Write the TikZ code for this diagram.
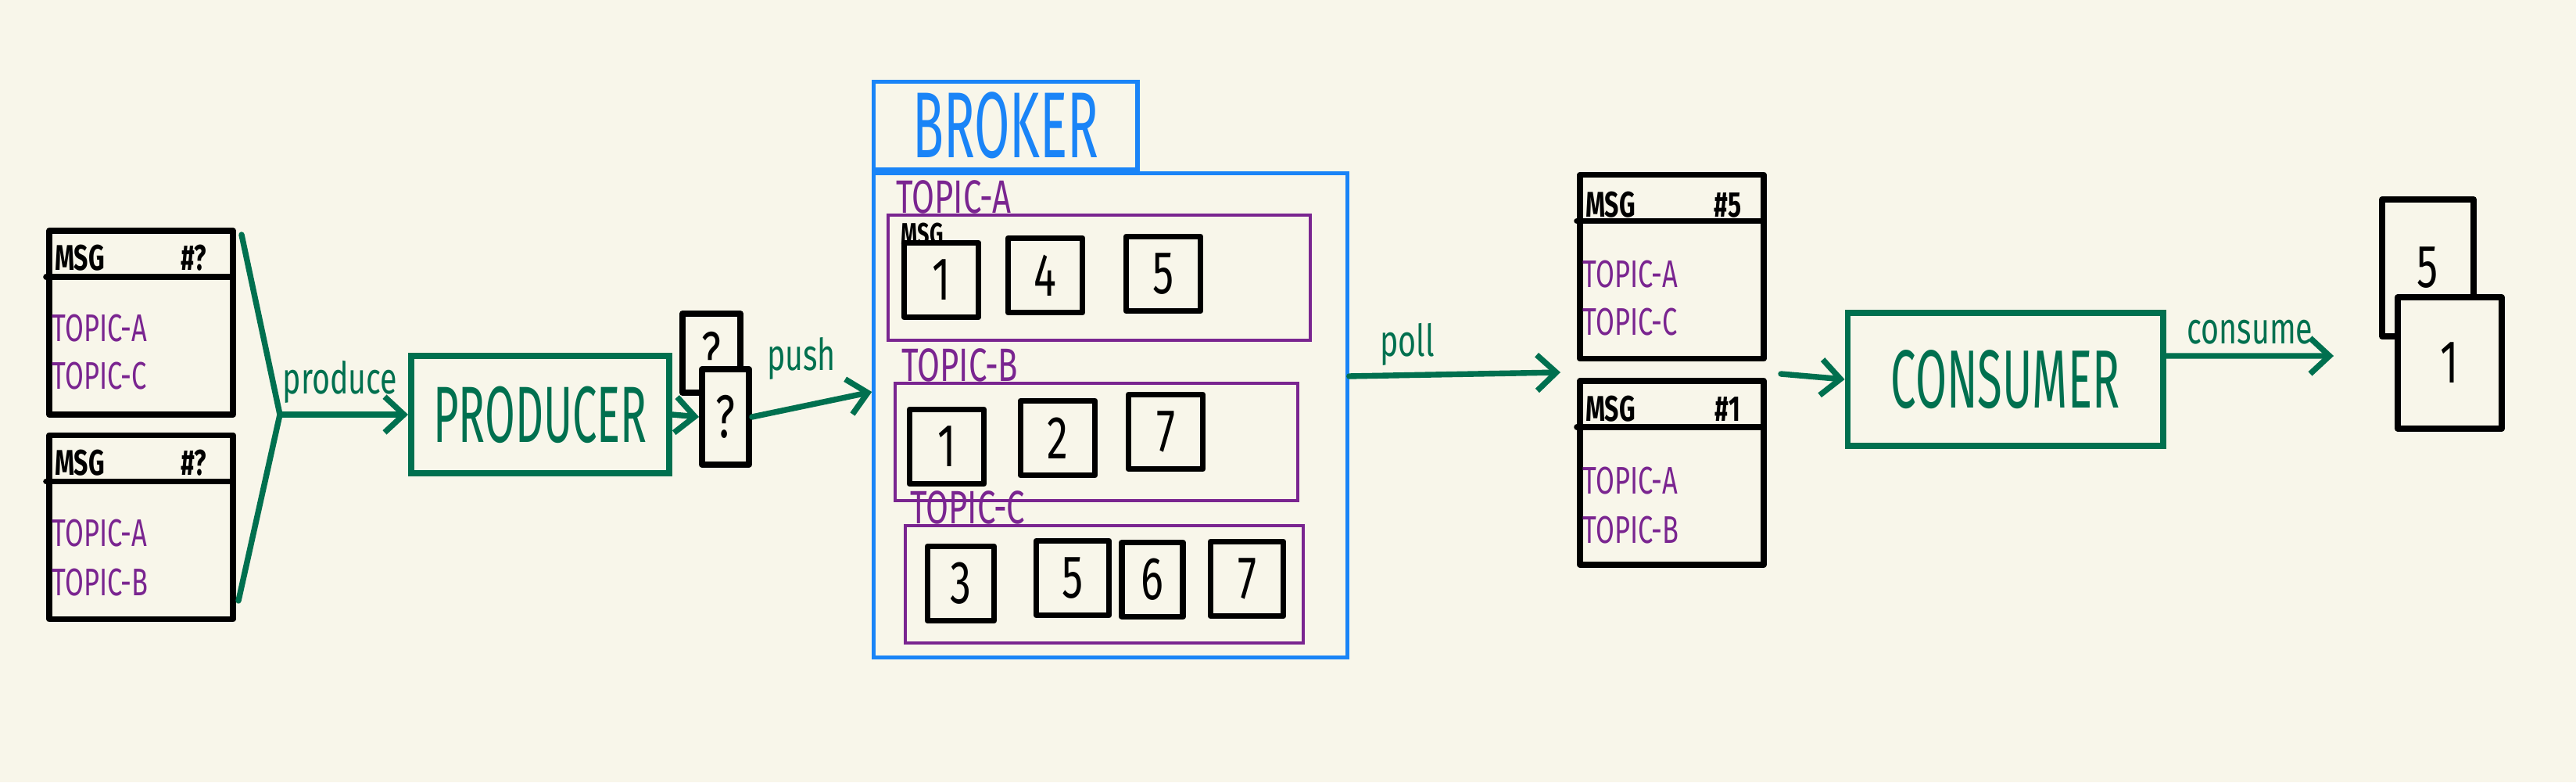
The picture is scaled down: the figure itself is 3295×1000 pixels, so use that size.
\documentclass[tikz,border=0pt]{standalone}
\usepackage{fontspec}
\usepackage{xcolor}
\usetikzlibrary{arrows.meta}
\newfontfamily\handfont[FakeStretch=0.7]{Fira Sans}
\newfontfamily\bighandfont[FakeStretch=0.55]{Fira Sans}
\definecolor{paper}{HTML}{F8F6EA}
\definecolor{flowgreen}{HTML}{00704F}
\definecolor{topicpurple}{HTML}{7A2590}
\definecolor{brokerblue}{HTML}{1A84F7}

\begin{document}
\begin{tikzpicture}[x=0.01cm, y=-0.01cm,
  >={Straight Barb[length=7pt,width=13pt]},
  ink/.style={line width=2.2pt, line cap=round, line join=round},
  msgbox/.style={ink, draw=black, minimum width=2.35cm, minimum height=2.35cm, inner sep=0pt},
  msghead/.style={font=\handfont\bfseries\fontsize{13}{13}\selectfont, inner sep=0pt},
  msgtopic/.style={text=topicpurple, font=\handfont\fontsize{14}{14}\selectfont, inner sep=0pt, anchor=west},
  card/.style={ink, draw=black, fill=paper, minimum width=0.95cm, minimum height=0.95cm, inner sep=0pt, font=\handfont\fontsize{22}{22}\selectfont},
  flow/.style={draw=flowgreen, line width=2.1pt, line cap=round},
  flowlbl/.style={text=flowgreen, font=\handfont\fontsize{16}{16}\selectfont, inner sep=0pt},
  actor/.style={draw=flowgreen, line width=2.2pt, text=flowgreen, inner sep=0pt},
  brokerbox/.style={draw=brokerblue, line width=1.5pt, text=brokerblue, inner sep=0pt},
  topicbox/.style={draw=topicpurple, line width=1.3pt, inner sep=0pt},
  topiclbl/.style={text=topicpurple, font=\handfont\fontsize{17}{17}\selectfont, inner sep=0pt}
]

\fill[paper] (0,0) rectangle (3295,1000);

% messages waiting to be produced
\node[msgbox] (m1) at (180.5,412.5) {};
\draw[ink] (m1.north west) ++(0,63) -- ++(235,0);
\node[msghead] (m1msg) at (102,330) {MSG};
\node[msghead] (m1id) at (248,330) {\#?};
\node[msgtopic] (m1ta) at (66,420) {TOPIC-A};
\node[msgtopic] (m1tc) at (66,481) {TOPIC-C};

\node[msgbox] (m2) at (180.5,674) {};
\draw[ink] (m2.north west) ++(0,63) -- ++(235,0);
\node[msghead] (m2msg) at (102,592) {MSG};
\node[msghead] (m2id) at (248,592) {\#?};
\node[msgtopic] (m2ta) at (66,682) {TOPIC-A};
\node[msgtopic] (m2tb) at (66,745) {TOPIC-B};

% producer
\coordinate (fanTop) at (309,300);
\coordinate (fanBot) at (305,768);
\coordinate (fanJoin) at (358,530);
\node[actor, minimum width=3.30cm, minimum height=1.50cm, font=\bighandfont\fontsize{29}{29}\selectfont] (prod) at (691,530) {PRODUCER};

\node[card, minimum width=0.74cm, minimum height=1.01cm] (qback) at (910,451.5) {?};
\node[card, minimum width=0.60cm, minimum height=1.22cm] (qfront) at (928,533) {?};

\draw[flow] (fanTop) -- (fanJoin) -- (fanBot);
\draw[flow, ->] (fanJoin) -- (prod.west);
\node[flowlbl] (lblProduce) at (435,488) {produce};
\draw[flow, ->] (prod.east) -- (qfront.west);

% broker
\node[brokerbox, minimum width=6.05cm, minimum height=6.18cm] (broker) at (1420.5,531) {};
\node[brokerbox, anchor=south west, minimum width=3.37cm, minimum height=1.12cm, font=\bighandfont\fontsize{34}{34}\selectfont] (brokertab) at (broker.north west) {BROKER};

\draw[flow, ->] (qfront.east) -- ([yshift=0.3cm]broker.west);
\node[flowlbl] (lblPush) at (1025,458) {push};

\node[topicbox, minimum width=5.40cm, minimum height=1.60cm] (topicA) at (1406,355) {};
\node[topiclbl, anchor=base west, xshift=0.12cm] (lblA) at (topicA.north west) {TOPIC-A};
\node[card] (a1) at (1204,358) {1};
\node[card] (a2) at (1337,352) {4};
\node[card] (a3) at (1488,350) {5};
\node[msghead, anchor=south west, font=\handfont\bfseries\fontsize{11}{11}\selectfont] (lblMsg) at (1152,314) {MSG};

\node[topicbox, minimum width=5.15cm, minimum height=1.50cm] (topicB) at (1402.5,565) {};
\node[topiclbl, anchor=base west, xshift=0.1cm] (lblB) at (topicB.north west) {TOPIC-B};
\node[card] (b1) at (1211,571) {1};
\node[card] (b2) at (1353,560) {2};
\node[card] (b3) at (1491,552) {7};

\node[topicbox, minimum width=5.09cm, minimum height=1.50cm] (topicC) at (1412.5,747) {};
\node[topiclbl, anchor=base west, xshift=0.08cm] (lblC) at (topicC.north west) {TOPIC-C};
\node[card, minimum width=0.85cm] (c1) at (1229,746) {3};
\node[card, minimum width=0.93cm] (c2) at (1372,739) {5};
\node[card, minimum width=0.78cm] (c3) at (1474,741) {6};
\node[card, minimum width=0.93cm] (c4) at (1595,740) {7};

% polled messages
\coordinate (pollEnd) at (1996,476);
\draw[flow, ->] ([yshift=0.5cm]broker.east) -- (pollEnd);
\node[flowlbl] (lblPoll) at (1800,440) {poll};

\node[msgbox] (m3) at (2138.5,341) {};
\draw[ink] (m3.north west) ++(0,63) -- ++(235,0);
\node[msghead] (m3msg) at (2060,262) {MSG};
\node[msghead] (m3id) at (2210,262) {\#5};
\node[msgtopic] (m3ta) at (2024,351) {TOPIC-A};
\node[msgtopic] (m3tc) at (2024,412) {TOPIC-C};

\node[msgbox] (m4) at (2138.5,604.5) {};
\draw[ink] (m4.north west) ++(0,63) -- ++(235,0);
\node[msghead] (m4msg) at (2060,523) {MSG};
\node[msghead] (m4id) at (2210,523) {\#1};
\node[msgtopic] (m4ta) at (2024,615) {TOPIC-A};
\node[msgtopic] (m4tb) at (2024,678) {TOPIC-B};

% consumer
\coordinate (pollOut) at (2278,478);
\node[actor, minimum width=4.03cm, minimum height=1.70cm, font=\bighandfont\fontsize{30}{30}\selectfont] (cons) at (2565,485) {CONSUMER};
\draw[flow, ->] (pollOut) -- (cons.west);

\coordinate (consEnd) at (2985,455);
\draw[flow, ->] ([yshift=0.3cm]cons.east) -- (consEnd);
\node[flowlbl] (lblConsume) at (2878,425) {consume};

\node[card, minimum width=1.17cm, minimum height=1.75cm] (out5) at (3105.5,342.5) {5};
\node[card, minimum width=1.33cm, minimum height=1.68cm] (out1) at (3133.5,464) {1};

\end{tikzpicture}
\end{document}
